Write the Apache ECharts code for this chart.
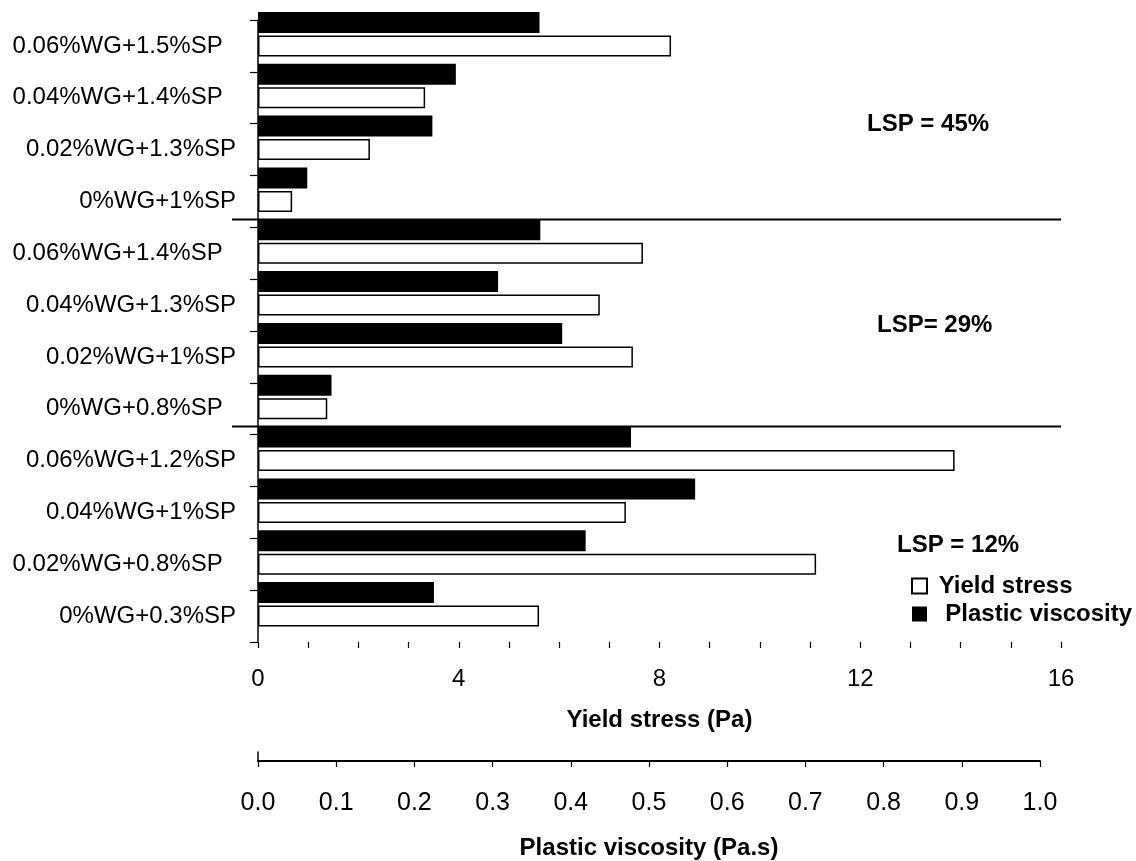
<!DOCTYPE html>
<html>
<head>
<meta charset="utf-8">
<style>
  html, body { margin: 0; padding: 0; background: #fff; }
  #chart { width: 1136px; height: 861px; }
</style>
<script src="https://cdn.jsdelivr.net/npm/echarts@6/dist/echarts.min.js"></script>
</head>
<body>
<div id="chart"></div>
<script>
// Mix labels, listed top to bottom (trailing spaces are part of the original labels)
const categories = [
  '0.06%WG+1.5%SP  ', '0.04%WG+1.4%SP  ', '0.02%WG+1.3%SP', '0%WG+1%SP',
  '0.06%WG+1.4%SP  ', '0.04%WG+1.3%SP', '0.02%WG+1%SP', '0%WG+0.8%SP  ',
  '0.06%WG+1.2%SP', '0.04%WG+1%SP', '0.02%WG+0.8%SP  ', '0%WG+0.3%SP'
];
// Yield stress (Pa)
const yieldStress = [8.23, 3.33, 2.23, 0.68, 7.67, 6.81, 7.47, 1.38, 13.88, 7.33, 11.12, 5.60];
// Plastic viscosity (Pa.s)
const plasticViscosity = [0.360, 0.253, 0.223, 0.063, 0.361, 0.307, 0.389, 0.094, 0.477, 0.559, 0.419, 0.225];
// LSP group captions, top to bottom
const groupLabels = ['LSP = 45%', 'LSP= 29%', 'LSP = 12%'];
const groupSize = 4;

const FONT = '"Liberation Sans", Arial, Helvetica, sans-serif';
const GRID_LEFT = 258, GRID_RIGHT_EDGE = 1061, GRID_TOP = 20, GRID_BOTTOM_EDGE = 642;
const GRID_W = GRID_RIGHT_EDGE - GRID_LEFT;
const PV_AXIS_LEN = 782;           // drawn length of the 0 - 1.0 viscosity scale
const PV_AXIS_Y = 761;
const BAR_W = 21;

const chart = echarts.init(document.getElementById('chart'), null, { renderer: 'canvas' });

const option = {
  backgroundColor: '#fff',
  animation: false,
  textStyle: { fontFamily: FONT, color: '#000' },
  grid: [
    { left: GRID_LEFT, top: GRID_TOP, width: GRID_W, height: GRID_BOTTOM_EDGE - GRID_TOP },
    { left: GRID_LEFT, top: PV_AXIS_Y - 9, width: PV_AXIS_LEN, height: 9 }
  ],
  xAxis: [
    {
      gridIndex: 0, type: 'value', min: 0, max: 16, interval: 1,
      axisLine: { lineStyle: { color: '#000', width: 2 } },
      axisTick: { show: true, length: 6, lineStyle: { color: '#000', width: 1.2 } },
      axisLabel: {
        margin: 25, fontSize: 24, color: '#000', fontFamily: FONT,
        formatter: v => (v % 4 === 0 ? String(v) : '')
      },
      splitLine: { show: false },
      name: 'Yield stress (Pa)', nameLocation: 'middle', nameGap: 66,
      nameTextStyle: { fontSize: 24, fontWeight: 'bold', color: '#000', fontFamily: FONT }
    },
    {
      // scale used by the viscosity bars, matching the axis drawn below
      gridIndex: 0, type: 'value', min: 0, max: GRID_W / PV_AXIS_LEN, show: false,
      splitLine: { show: false }
    },
    {
      gridIndex: 1, type: 'value', min: 0, max: 1, interval: 0.1,
      axisLine: { lineStyle: { color: '#000', width: 2 } },
      axisTick: { show: true, length: 6, lineStyle: { color: '#000', width: 1.2 } },
      axisLabel: {
        margin: 30, fontSize: 25, color: '#000', fontFamily: FONT,
        formatter: v => v.toFixed(1)
      },
      splitLine: { show: false },
      name: 'Plastic viscosity (Pa.s)', nameLocation: 'middle', nameGap: 75,
      nameTextStyle: { fontSize: 24, fontWeight: 'bold', color: '#000', fontFamily: FONT }
    }
  ],
  yAxis: [
    {
      gridIndex: 0, type: 'category', data: categories, inverse: true,
      axisLine: { lineStyle: { color: '#000', width: 1.5 } },
      axisTick: { show: true, length: 8, alignWithLabel: false, lineStyle: { color: '#000', width: 1.2 } },
      axisLabel: { margin: 22, fontSize: 24, color: '#000', fontFamily: FONT, interval: 0 },
      splitLine: { show: false }
    },
    {
      gridIndex: 1, type: 'value', min: 0, max: 1,
      axisLine: { show: true, lineStyle: { color: '#000', width: 1.5 } },
      axisTick: { show: false }, axisLabel: { show: false }, splitLine: { show: false }
    }
  ],
  legend: {
    data: ['Yield stress', 'Plastic viscosity'],
    orient: 'vertical', left: 906, top: 569,
    itemWidth: 15, itemHeight: 15, itemGap: 4,
    icon: 'rect',
    textStyle: { fontSize: 24, fontWeight: 'bold', color: '#000', fontFamily: FONT, lineHeight: 24 },
    formatter: name => (name === 'Yield stress' ? ' ' + name : '  ' + name)
  },
  series: [
    {
      name: 'Plastic viscosity', type: 'bar', xAxisIndex: 1, yAxisIndex: 0,
      data: plasticViscosity, barWidth: BAR_W, barGap: '12%', clip: false,
      itemStyle: { color: '#000', borderColor: '#000', borderWidth: 0 }
    },
    {
      name: 'Yield stress', type: 'bar', xAxisIndex: 0, yAxisIndex: 0,
      data: yieldStress, barWidth: BAR_W, barGap: '12%', clip: false,
      itemStyle: { color: '#fff', borderColor: '#000', borderWidth: 1.5 }
    },
    {
      // empty slot that keeps each pair sitting above its label line
      name: 'spacer', type: 'bar', xAxisIndex: 0, yAxisIndex: 0,
      data: categories.map(() => null), barWidth: BAR_W, barGap: '12%',
      itemStyle: { color: 'transparent' }, silent: true
    }
  ]
};

chart.setOption(option);

// Separators between LSP groups, drawn just above each group boundary
const lines = [];
for (let g = 1; g < groupLabels.length; g++) {
  const upper = chart.convertToPixel({ yAxisIndex: 0 }, categories[g * groupSize - 1]);
  const lower = chart.convertToPixel({ yAxisIndex: 0 }, categories[g * groupSize]);
  const y = Math.round((upper + lower) / 2 - BAR_W * 0.4) + 0.5;
  lines.push({
    type: 'line', silent: true,
    shape: { x1: 232, y1: y, x2: GRID_RIGHT_EDGE, y2: y },
    style: { stroke: '#000', lineWidth: 2 }
  });
}

const captionPos = [[867, 124], [877, 325], [897, 545]];
const captions = groupLabels.map((t, i) => ({
  type: 'text', silent: true,
  x: captionPos[i][0], y: captionPos[i][1],
  style: {
    text: t, fill: '#000', font: 'bold 24px ' + FONT,
    textAlign: 'left', textVerticalAlign: 'middle'
  }
}));

chart.setOption({ graphic: lines.concat(captions) });
</script>
</body>
</html>
